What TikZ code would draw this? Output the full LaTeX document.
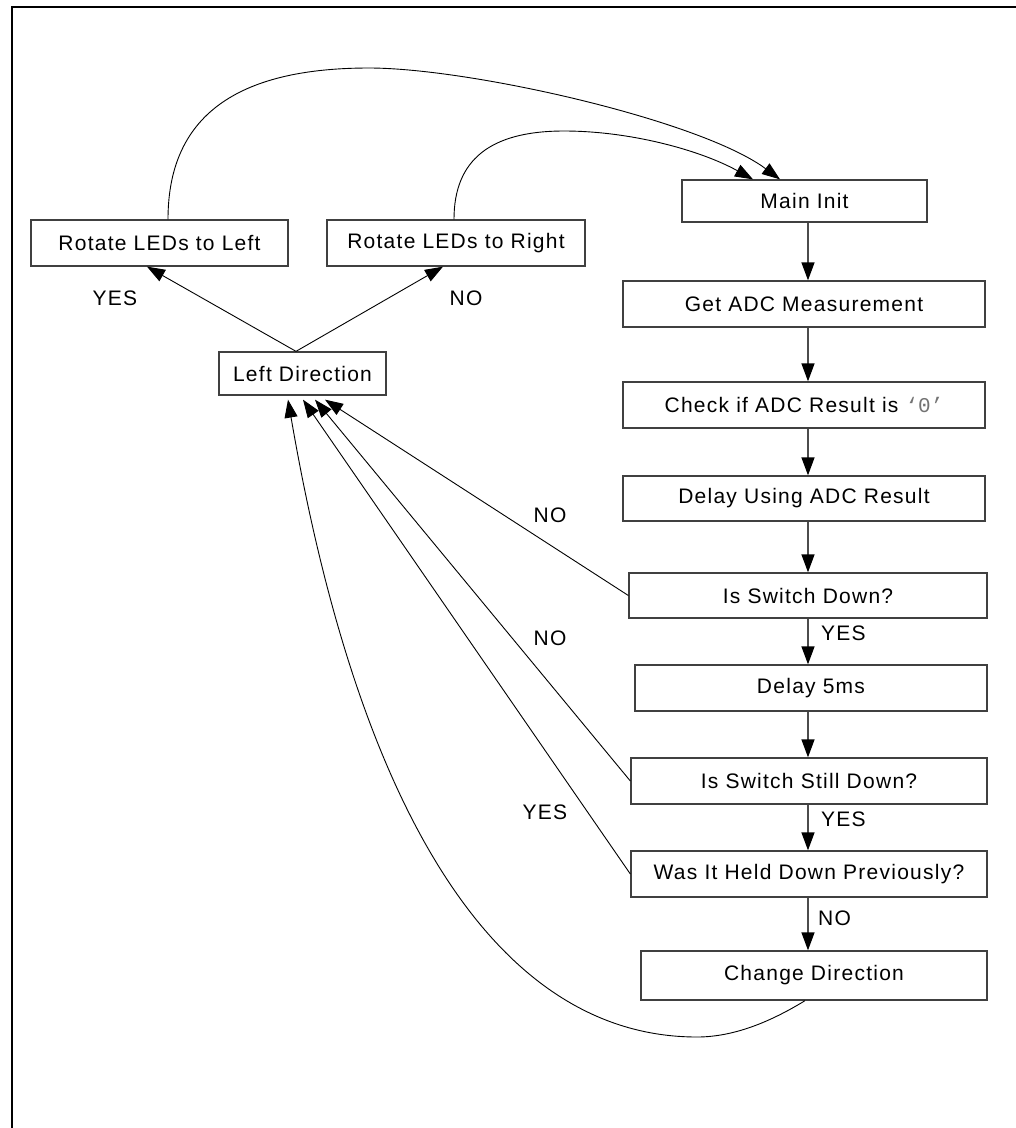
\documentclass[tikz,border=0pt]{standalone}
\usepackage{fontspec}
\setmainfont{Liberation Sans}[LetterSpace=6]
\newfontfamily\zeromono{Liberation Mono}
\usetikzlibrary{arrows.meta}
\begin{document}
\begin{tikzpicture}[x=1pt,y=-1pt,
  box/.style={draw=black!75, line width=1.3pt, inner sep=0pt, font=\fontsize{21}{25}\selectfont, text=black},
  lbl/.style={font=\fontsize{21}{25}\selectfont, inner sep=0pt},
  tip/.style={-{Triangle[length=18pt,width=13pt,color=black]}},
  conn/.style={tip, draw=black, line width=0.9pt},
  vconn/.style={tip, draw=black!70, line width=1.4pt}
]
\useasboundingbox (0,0) rectangle (1016,1128);
\draw[line width=2.5pt] (12,1130) -- (12,7) -- (1018,7);

% right column
\node[box, minimum width=245pt, minimum height=42pt] (mainInit) at (804.5,201) {Main Init};
\node[box, minimum width=362pt, minimum height=46pt] (getADC) at (804,304) {Get ADC Measurement};
\node[box, minimum width=362pt, minimum height=46pt] (check) at (804,405) {Check if ADC Result is {\color{black!55}\zeromono\addfontfeatures{LetterSpace=0}‘0’}};
\node[box, minimum width=362pt, minimum height=45pt] (delayADC) at (804,498.5) {Delay Using ADC Result};
\node[box, minimum width=358pt, minimum height=45pt] (isDown) at (808,595.5) {Is Switch Down?};
\node[box, minimum width=352pt, minimum height=46pt] (delay5) at (811,688) {Delay 5ms};
\node[box, minimum width=356pt, minimum height=46pt] (isStill) at (809,781) {Is Switch Still Down?};
\node[box, minimum width=356pt, minimum height=46pt] (wasHeld) at (809,874) {Was It Held Down Previously?};
\node[box, minimum width=346pt, minimum height=49pt] (changeDir) at (814,975.5) {Change Direction};

% left part
\node[box, minimum width=257pt, minimum height=46pt] (rotL) at (159.5,243) {Rotate LEDs to Left};
\node[box, minimum width=258pt, minimum height=46pt] (rotR) at (456,243) {Rotate LEDs to Right};
\node[box, minimum width=167pt, minimum height=43pt] (leftDir) at (302.5,373.5) {Left Direction};

% vertical flow
\coordinate (col) at (808,0);
\draw[vconn] (mainInit.south -| col) -- (getADC.north -| col);
\draw[vconn] (getADC.south -| col) -- (check.north -| col);
\draw[vconn] (check.south -| col) -- (delayADC.north -| col);
\draw[vconn] (delayADC.south -| col) -- (isDown.north -| col);
\draw[vconn] (isDown.south -| col) -- (delay5.north -| col);
\draw[vconn] (delay5.south -| col) -- (isStill.north -| col);
\draw[vconn] (isStill.south -| col) -- (wasHeld.north -| col);
\draw[vconn] (wasHeld.south -| col) -- (changeDir.north -| col);

% top arcs back to Main Init
\draw[conn] ([xshift=8.5pt]rotL.north) .. controls (168,110) and (245,68) .. (369,68)
  .. controls (470,68) and (700,120) .. ([xshift=-24.5pt]mainInit.north);
\draw[conn] ([xshift=-2pt]rotR.north) .. controls (454,160) and (490,131) .. (564,131)
  .. controls (630,131) and (700,150) .. ([xshift=-51.5pt]mainInit.north);

% Left Direction branches
\draw[conn] ([xshift=-6.5pt]leftDir.north) -- ([xshift=-12.5pt]rotL.south);
\draw[conn] ([xshift=-6.5pt]leftDir.north) -- ([xshift=-13pt]rotR.south);

% returns to Left Direction
\draw[conn] (isDown.west) -- ([xshift=22.5pt,yshift=-4pt]leftDir.south);
\draw[conn] (isStill.west) -- ([xshift=12.5pt,yshift=-4pt]leftDir.south);
\draw[conn] (wasHeld.west) -- ([xshift=0.5pt,yshift=-4pt]leftDir.south);
\draw[conn] ([xshift=-9pt]changeDir.south) .. controls (775,1019) and (737,1037) .. (697,1037)
  .. controls (497,1037) and (359,813) .. ([xshift=-14.5pt,yshift=-4pt]leftDir.south);

% labels
\node[lbl] (lYesTop) at (115,298) {YES};
\node[lbl] (lNoTop) at (466,298) {NO};
\node[lbl] (lNo1) at (550,515) {NO};
\node[lbl] (lNo2) at (550,638) {NO};
\node[lbl] (lYes3) at (545,812) {YES};
\node[lbl] (lYesR1) at (843.5,633) {YES};
\node[lbl] (lYesR2) at (843.5,819) {YES};
\node[lbl] (lNoR) at (834.5,918) {NO};
\end{tikzpicture}
\end{document}
